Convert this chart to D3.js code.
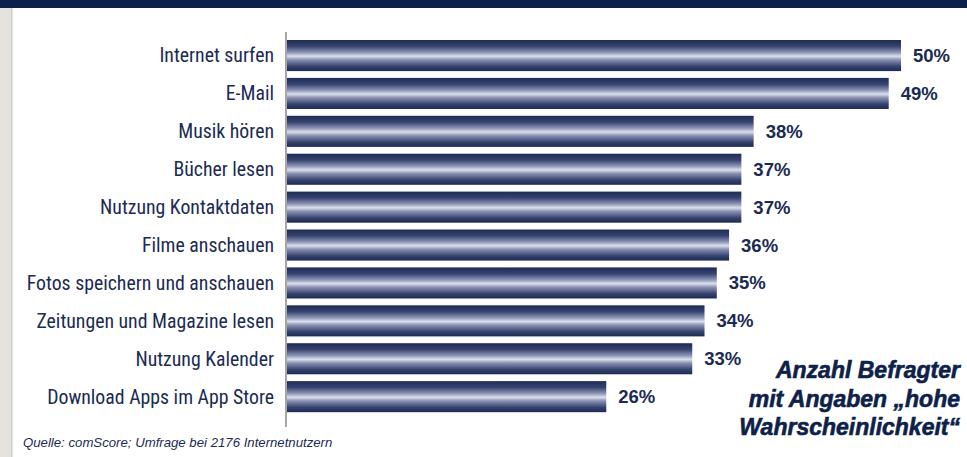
<!DOCTYPE html>
<html>
<head>
<meta charset="utf-8">
<script src="https://cdn.jsdelivr.net/npm/d3@7"></script>
<style>
  body { margin: 0; background: #fff; }
  #chart { width: 967px; height: 457px; }
</style>
</head>
<body>
<div id="chart"></div>
<script>
var categories = [
    "Internet surfen",
    "E-Mail",
    "Musik hören",
    "Bücher lesen",
    "Nutzung Kontaktdaten",
    "Filme anschauen",
    "Fotos speichern und anschauen",
    "Zeitungen und Magazine lesen",
    "Nutzung Kalender",
    "Download Apps im App Store"
];
var values = [50, 49, 38, 37, 37, 36, 35, 34, 33, 26];
var noteLines = ["Anzahl Befragter", "mit Angaben „hohe", "Wahrscheinlichkeit“"];
var sourceText = "Quelle: comScore; Umfrage bei 2176 Internetnutzern";

var data = categories.map(function(c, i) { return {name: c, value: values[i]}; });

var width = 967,
    height = 457,
    navy = "#1b2b52";

var svg = d3.select("#chart").append("svg")
    .attr("width", width)
    .attr("height", height);

// bar gradient (dark edges, light centre)
var grad = svg.append("defs").append("linearGradient")
    .attr("id", "barGrad")
    .attr("x1", 0).attr("y1", 0).attr("x2", 0).attr("y2", 1);
[[0, "#1d2b54"], [0.2, "#36436f"], [0.4, "#8e96b8"], [0.52, "#dcdfec"],
 [0.64, "#8890b2"], [0.85, "#35426d"], [1, "#1d2b54"]].forEach(function(s) {
    grad.append("stop").attr("offset", s[0]).attr("stop-color", s[1]);
});

// frame: left grey strip and top navy band
svg.append("rect").attr("x", 0).attr("y", 0).attr("width", 11).attr("height", height).attr("fill", "#e6e3de");
svg.append("rect").attr("x", 11).attr("y", 0).attr("width", 1.5).attr("height", height).attr("fill", "#cfccc7");
svg.append("rect").attr("x", 0).attr("y", 0).attr("width", width).attr("height", 8).attr("fill", "#0b2149");

var xScale = d3.scaleLinear().domain([0, 50]).range([287, 901]);
var yScale = d3.scaleBand()
    .domain(categories)
    .range([36.6, 415.6])
    .paddingInner(0.18)
    .paddingOuter(0.09);

svg.selectAll(".bar")
    .data(data)
  .enter().append("rect")
    .attr("class", "bar")
    .attr("x", xScale(0))
    .attr("y", function(d) { return yScale(d.name); })
    .attr("width", function(d) { return xScale(d.value) - xScale(0); })
    .attr("height", yScale.bandwidth())
    .attr("fill", "url(#barGrad)");

// axis line
svg.append("line")
    .attr("x1", 286).attr("x2", 286)
    .attr("y1", 32).attr("y2", 427)
    .attr("stroke", "#a8a6a3")
    .attr("stroke-width", 2);

// category labels
svg.selectAll(".cat")
    .data(data)
  .enter().append("text")
    .attr("class", "cat")
    .attr("x", 274)
    .attr("y", function(d) { return yScale(d.name) + yScale.bandwidth() / 2; })
    .attr("dy", "0.35em")
    .attr("text-anchor", "end")
    .style("font-family", "'Liberation Sans Narrow', 'Roboto Condensed', 'Arial Narrow', sans-serif")
    .style("font-size", "19.8px")
    .style("fill", navy)
    .text(function(d) { return d.name; });

// value labels
svg.selectAll(".val")
    .data(data)
  .enter().append("text")
    .attr("class", "val")
    .attr("x", function(d) { return xScale(d.value) + 12; })
    .attr("y", function(d) { return yScale(d.name) + yScale.bandwidth() / 2; })
    .attr("dy", "0.35em")
    .style("font-family", "'Liberation Sans', Arial, sans-serif")
    .style("font-weight", "bold")
    .style("font-size", "18.5px")
    .style("fill", navy)
    .text(function(d) { return d.value + "%"; });

// note
svg.selectAll(".note")
    .data(noteLines)
  .enter().append("text")
    .attr("class", "note")
    .attr("x", 960)
    .attr("y", function(d, i) { return 378 + i * 28.5; })
    .attr("text-anchor", "end")
    .style("font-family", "'Liberation Sans', Arial, sans-serif")
    .style("font-weight", "bold")
    .style("font-style", "italic")
    .style("font-size", "23px")
    .style("fill", "#0d2149")
    .style("stroke", "#0d2149")
    .style("stroke-width", "0.6px")
    .text(function(d) { return d; });

// source
svg.append("text")
    .attr("x", 23)
    .attr("y", 447)
    .style("font-family", "'Liberation Sans', Arial, sans-serif")
    .style("font-style", "italic")
    .style("font-size", "13.2px")
    .style("fill", navy)
    .text(sourceText);
</script>
</body>
</html>
